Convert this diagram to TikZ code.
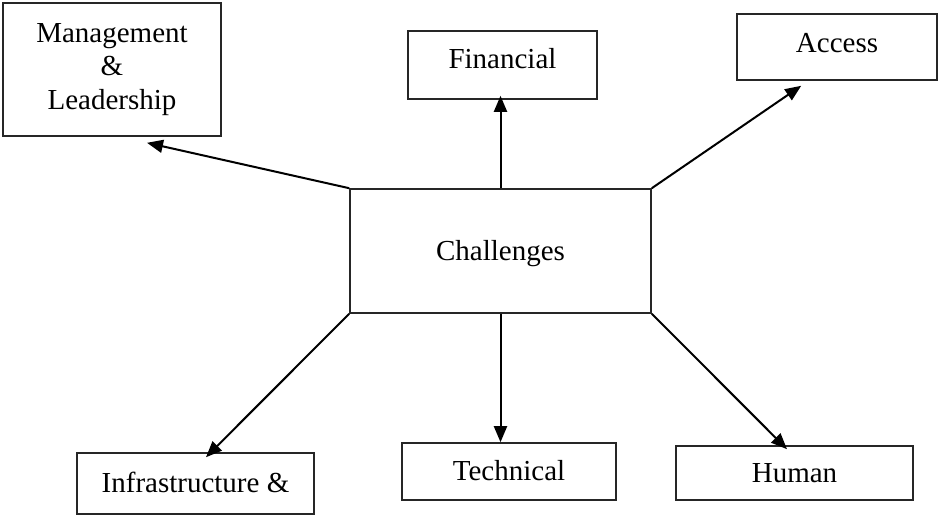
\documentclass[tikz,border=0pt]{standalone}
\usepackage{fontspec}
\setmainfont{Liberation Serif}
\usetikzlibrary{arrows.meta}
\begin{document}
\begin{tikzpicture}[x=1pt,y=-1pt,
  box/.style={draw=black!85, line width=1.6pt, inner sep=0pt, align=center,
    font=\fontsize{29}{33.5}\selectfont, text height=21pt, text depth=3pt},
  link/.style={line width=2pt, -{Triangle[length=16pt,width=13pt]}}]
  \useasboundingbox (0,0) rectangle (939,516);
  % boxes
  \node[box, minimum width=218pt, minimum height=133pt, text height=, text depth=] (mgmt) at (112,69.5)
    {Management\\\&\\Leadership};
  \node[box, minimum width=189pt, minimum height=68pt, text depth=14pt] (fin) at (502.5,65) {Financial};
  \node[box, minimum width=200pt, minimum height=66pt, text depth=10pt] (acc) at (837,47) {Access};
  \node[box, minimum width=301pt, minimum height=124pt] (chal) at (500.5,251) {Challenges};
  \node[box, minimum width=237pt, minimum height=61pt] (infra) at (195.5,483.5) {Infrastructure \&};
  \node[box, minimum width=214pt, minimum height=57pt] (tech) at (509,471.5) {Technical};
  \node[box, minimum width=237pt, minimum height=54pt] (hum) at (794.5,473) {Human};
  % connectors
  \draw[link] (chal.north west) -- ([shift={(35,6)}]mgmt.south);
  \draw[link] (chal.north) -- ([yshift=4pt]chal.north |- fin.south);
  \draw[link] (chal.north east) -- ([shift={(65,5)}]acc.south west);
  \draw[link] (chal.south west) -- ([shift={(10.5,5)}]infra.north);
  \draw[link] (chal.south) -- (chal.south |- tech.north);
  \draw[link] (chal.south east) -- ([shift={(-7.5,4)}]hum.north);
\end{tikzpicture}
\end{document}
